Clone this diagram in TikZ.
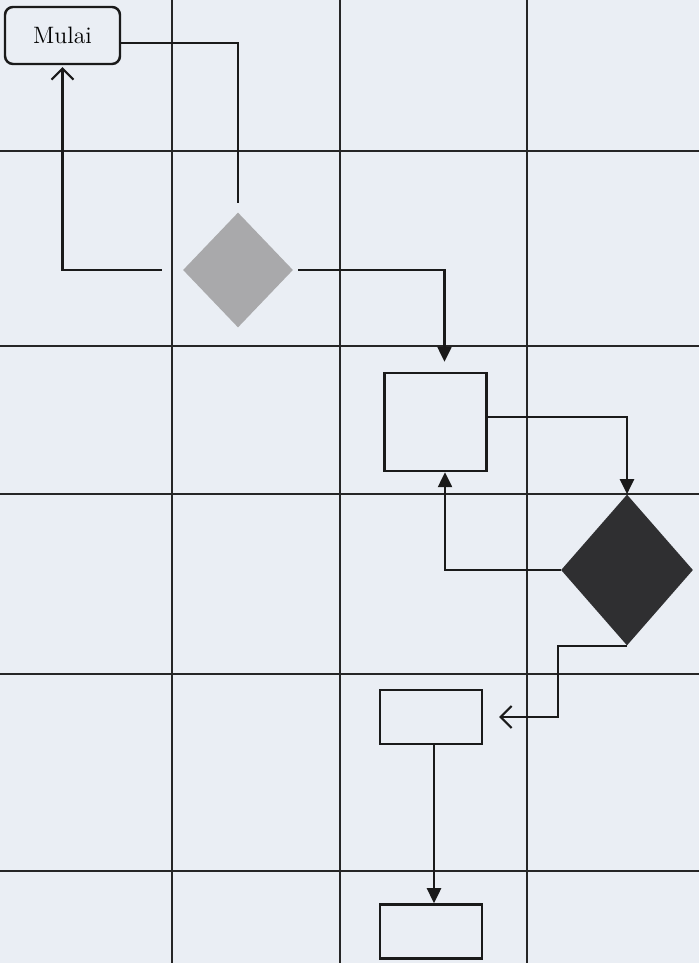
\documentclass[tikz,border=0pt]{standalone}
\usepackage{tikz}
\usetikzlibrary{
  arrows.meta,
  positioning,
  shapes.geometric
}
\definecolor{ink}{HTML}{1A1A1A}
\definecolor{paper}{HTML}{EAEEF4}
\definecolor{lane}{HTML}{262626}
\definecolor{greyfill}{HTML}{A9A9AB}
\definecolor{darkfill}{HTML}{2F2F31}
\tikzset{
  laneline/.style={
    draw=lane,
    line width=1pt
  },
  flow/.style={
    -{Triangle[length=3mm,width=2.8mm]},
    line width=1.4pt,
    draw=ink
  },
  plainflow/.style={
    line width=1.4pt,
    draw=ink
  },
  openflow/.style={
    -{Straight Barb[length=2.2mm,width=4.4mm,line width=1.2pt]},
    line width=1.4pt,
    draw=ink
  },
  startbox/.style={
    draw=ink,
    fill=paper,
    line width=1.4pt,
    rounded corners=1.6mm,
    minimum width=23mm,
    minimum height=11.4mm,
    font=\fontsize{13.5}{16}\selectfont
  },
  task/.style={
    draw=ink,
    fill=paper,
    line width=1.4pt,
    minimum width=20.4mm,
    inner sep=0pt
  },
  choice/.style={
    diamond,
    draw=none,
    inner sep=0pt
  }
}

\begin{document}
\begin{tikzpicture}[x=0.2mm,y=-0.2mm]
  \fill[paper] (0,0) rectangle (699,963);
  \useasboundingbox (0,0) rectangle (699,963);

  % swimlane grid
  \foreach \gx in {172,340,527}
    \draw[laneline] (\gx,0) -- (\gx,963);
  \foreach \gy in {151,346,494,674,871}
    \draw[laneline] (0,\gy) -- (699,\gy);

  \node[startbox] (mulai) at (62.5,35.5) {Mulai};
  \node[choice, fill=greyfill, minimum width=22mm, minimum height=23mm]
    (gdec) at (238,270) {};
  \node[task, minimum height=19.6mm] (box1) at (435.5,422) {};
  \node[choice, fill=darkfill, minimum width=26.4mm, minimum height=30.2mm]
    (ddec) at (627,570) {};
  \node[task, minimum height=10.8mm] (box2) at (431,717) {};
  \node[task, minimum height=10.8mm, below=31.6mm of box2] (box3) {};

  \draw[plainflow, shorten >=1.8mm] ([yshift=-1.5mm]mulai.east) -| (gdec.north);
  \draw[openflow, shorten <=4.2mm, shorten >=0.4mm]
    (gdec.west) -| (mulai.south);
  \draw[flow, shorten <=1mm, shorten >=2mm]
    (gdec.east) -| ([xshift=1.8mm]box1.north);
  \draw[flow] ([yshift=1mm]box1.east) -| (ddec.north);
  \draw[flow] (ddec.west) -| ([xshift=1.9mm]box1.south);
  \draw[openflow, shorten >=3.2mm]
    (ddec.south) -- ++(-69,0) |- (box2.east);
  \draw[flow] ([xshift=0.6mm]box2.south) -- ([xshift=0.6mm]box3.north);
\end{tikzpicture}
\end{document}
